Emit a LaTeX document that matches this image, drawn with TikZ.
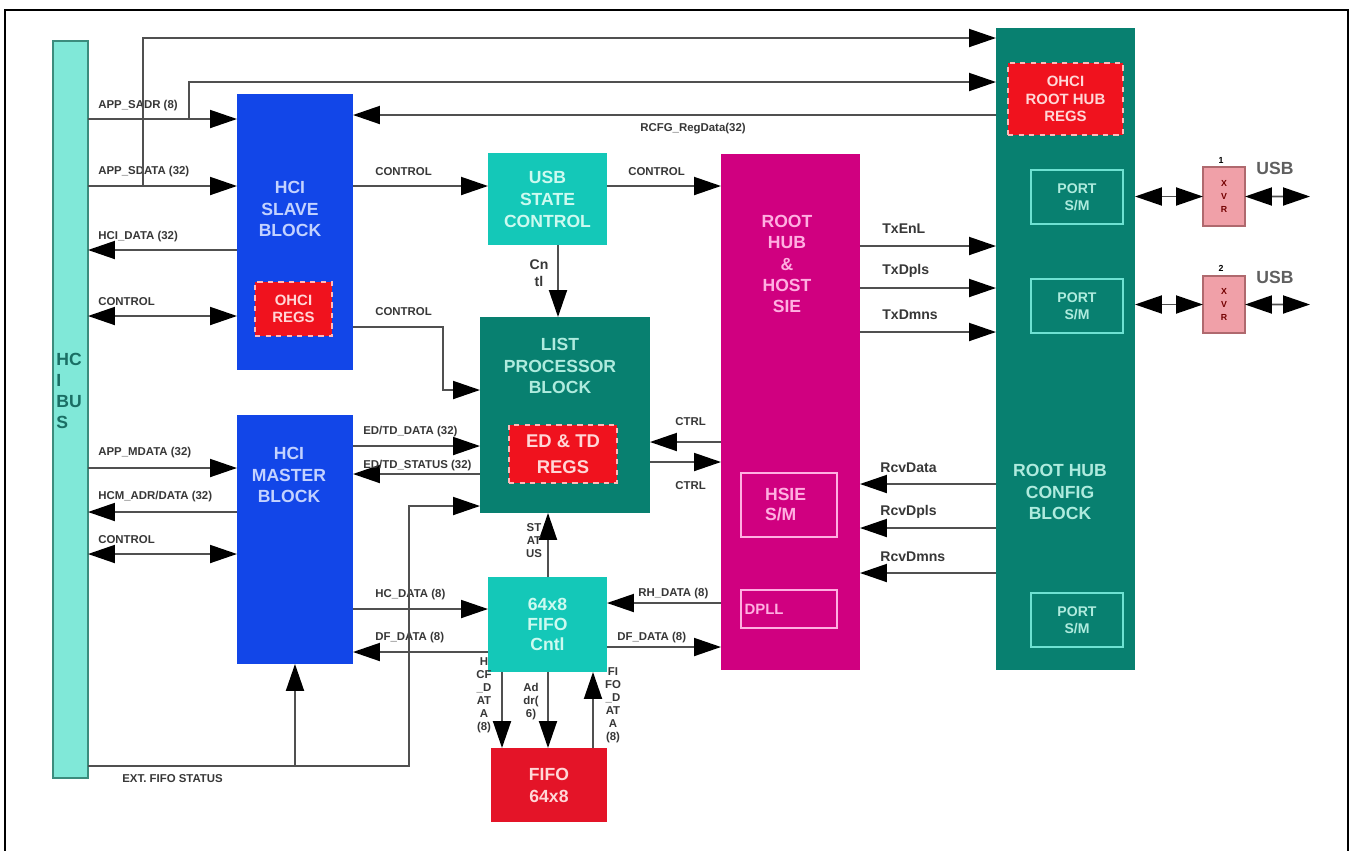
\documentclass[tikz,border=0pt]{standalone}
\usepackage{fontspec}
\setmainfont{Liberation Sans}
\usepackage{tikz}
\usetikzlibrary{arrows.meta,positioning,calc}
\definecolor{busaqua}{RGB}{128,232,216}
\definecolor{busedge}{RGB}{60,140,125}
\definecolor{bustext}{RGB}{26,110,100}
\definecolor{hciblue}{RGB}{18,70,232}
\definecolor{hcitext}{RGB}{195,210,255}
\definecolor{usbteal}{RGB}{20,200,184}
\definecolor{usbtext}{RGB}{205,250,240}
\definecolor{lpteal}{RGB}{8,128,112}
\definecolor{lptext}{RGB}{175,235,222}
\definecolor{regred}{RGB}{240,18,30}
\definecolor{regedge}{RGB}{255,185,185}
\definecolor{regtext}{RGB}{255,215,215}
\definecolor{fifored}{RGB}{228,20,40}
\definecolor{siemag}{RGB}{208,0,128}
\definecolor{sietext}{RGB}{255,175,225}
\definecolor{portedge}{RGB}{110,225,210}
\definecolor{xvrpink}{RGB}{240,160,168}
\definecolor{xvredge}{RGB}{175,105,110}
\definecolor{wire}{RGB}{80,80,80}
\definecolor{lblgray}{RGB}{55,55,55}
\definecolor{usbgray}{RGB}{95,95,95}
\tikzset{
  blk/.style={rectangle,inner sep=0pt,outer sep=0pt,anchor=north west},
  ttl/.style={font=\fontsize{10}{12}\selectfont\bfseries,align=center,inner sep=0pt},
  regbox/.style={blk,fill=regred,draw=regedge,dashed,line width=1pt,text=regtext,align=center},
  portbox/.style={blk,draw=portedge,line width=0.8pt,text=lptext,align=center,
    font=\fontsize{8}{9.5}\selectfont\bfseries},
  hsiebox/.style={blk,draw=sietext,line width=0.8pt,text=sietext,align=left},
  sig/.style={draw=wire,line width=1.1pt,-{Triangle[length=0.54cm,width=0.36cm,black]}},
  sigboth/.style={draw=wire,line width=1.1pt,
    {Triangle[length=0.54cm,width=0.36cm,black]}-{Triangle[length=0.54cm,width=0.36cm,black]}},
  lbl/.style={font=\fontsize{6.5}{7.4}\selectfont\bfseries,text=lblgray,anchor=west,inner sep=0pt},
  vlbl/.style={font=\fontsize{6.5}{7.4}\selectfont\bfseries,text=lblgray,align=center,inner sep=0pt},
  sielbl/.style={font=\fontsize{8}{9}\selectfont\bfseries,text=lblgray,anchor=west,inner sep=0pt}
}

\begin{document}
\begin{tikzpicture}[x=0.02cm,y=-0.02cm]
  \useasboundingbox (0,0) rectangle (1353,850);
  \draw[line width=1.5pt] (5,10) rectangle (1348,880);

  % blocks
  \node[blk,fill=busaqua,draw=busedge,line width=0.8pt,minimum width=0.70cm,minimum height=14.74cm]
    (bus) at (53,41) {};
  \node[ttl,text=bustext,anchor=west,align=left] (bust) at (56,391) {HC\\I\\BU\\S};

  \node[blk,fill=hciblue,minimum width=2.32cm,minimum height=5.52cm] (slave) at (237,94) {};
  \node[ttl,text=hcitext] (slavet) at (290,209) {HCI\\SLAVE\\BLOCK};
  \node[regbox,minimum width=1.54cm,minimum height=1.08cm,font=\fontsize{8.5}{9.5}\selectfont\bfseries]
    (sregs) at (255,282) {OHCI\\REGS};

  \node[blk,fill=hciblue,minimum width=2.32cm,minimum height=4.98cm] (master) at (237,415) {};
  \node[ttl,text=hcitext] (mastert) at (289,475) {HCI\\MASTER\\BLOCK};

  \node[blk,fill=usbteal,minimum width=2.38cm,minimum height=1.84cm,
    font=\fontsize{10}{12.5}\selectfont\bfseries,text=usbtext,align=center] (usc) at (488,153)
    {USB\\STATE\\CONTROL};

  \node[blk,fill=lpteal,minimum width=3.40cm,minimum height=3.92cm] (lpb) at (480,317) {};
  \node[ttl,text=lptext] (lpbt) at (560,366) {LIST\\PROCESSOR\\BLOCK};
  \node[regbox,minimum width=2.16cm,minimum height=1.16cm,font=\fontsize{10.5}{15}\selectfont\bfseries]
    (edtd) at (509,425) {ED \& TD\\REGS};

  \node[blk,fill=usbteal,minimum width=2.38cm,minimum height=1.90cm,
    font=\fontsize{10}{11.5}\selectfont\bfseries,text=usbtext,align=center] (fcntl) at (488,577)
    {64x8\\FIFO\\Cntl};
  \node[blk,fill=fifored,minimum width=2.32cm,minimum height=1.48cm,
    font=\fontsize{10}{12.5}\selectfont\bfseries,text=regtext,align=center] (fifo) at (491,748)
    {FIFO\\64x8};

  \node[blk,fill=siemag,minimum width=2.78cm,minimum height=10.32cm] (sie) at (721,154) {};
  \node[ttl,text=sietext] (siet) at (787,264) {ROOT\\HUB\\\&\\HOST\\SIE};
  \node[hsiebox,minimum width=1.92cm,minimum height=1.28cm,font=\fontsize{10}{11.4}\selectfont\bfseries]
    (hsie) at (741,473) {HSIE\\S/M\phantom{IE}};
  \node[hsiebox,minimum width=1.92cm,minimum height=0.76cm,font=\fontsize{8.5}{10}\selectfont\bfseries]
    (dpll) at (741,590) {DPLL\phantom{MMMM}};

  \node[blk,fill=lpteal,minimum width=2.78cm,minimum height=12.84cm] (rhc) at (996,28) {};
  \node[ttl,text=lptext] (rhct) at (1060,492) {ROOT HUB\\CONFIG\\BLOCK};
  \node[regbox,minimum width=2.30cm,minimum height=1.44cm,font=\fontsize{8.5}{10}\selectfont\bfseries]
    (rhregs) at (1008,63) {OHCI\\ROOT HUB\\REGS};
  \node[portbox,minimum width=1.84cm,minimum height=1.08cm] (port1) at (1031,170) {PORT\\S/M};
  \node[portbox,minimum width=1.84cm,minimum height=1.08cm] (port2) at (1031,279) {PORT\\S/M};
  \node[portbox,minimum width=1.84cm,minimum height=1.08cm] (port3) at (1031,593) {PORT\\S/M};

  \node[blk,fill=xvrpink,draw=xvredge,line width=0.6pt,minimum width=0.84cm,minimum height=1.18cm,
    font=\fontsize{5}{7.4}\selectfont\bfseries,text=red!45!black,align=center] (xvr1) at (1203,167) {X\\V\\R};
  \node[blk,fill=xvrpink,draw=xvredge,line width=0.6pt,minimum width=0.84cm,minimum height=1.14cm,
    font=\fontsize{5}{7.4}\selectfont\bfseries,text=red!45!black,align=center] (xvr2) at (1203,276) {X\\V\\R};
  \node[font=\fontsize{5}{6}\selectfont\bfseries,inner sep=0pt] (xvr1n) at (1221,160) {1};
  \node[font=\fontsize{5}{6}\selectfont\bfseries,inner sep=0pt] (xvr2n) at (1221,268) {2};
  \node[font=\fontsize{10}{12}\selectfont\bfseries,text=usbgray,anchor=west,inner sep=0pt] (usb1) at (1256,168) {USB};
  \node[font=\fontsize{10}{12}\selectfont\bfseries,text=usbgray,anchor=west,inner sep=0pt] (usb2) at (1256,277) {USB};

  % bus <-> slave
  \draw[sig] (bus.east |- 0,119) -- (slave.west |- 0,119);
  \draw[sig] (bus.east |- 0,186) -- (slave.west |- 0,186);
  \draw[sig] (slave.west |- 0,250) -- (bus.east |- 0,250);
  \draw[sigboth] (bus.east |- 0,316) -- (slave.west |- 0,316);
  \node[lbl] at (98,106) {APP\_SADR (8)};
  \node[lbl] at (98,172) {APP\_SDATA (32)};
  \node[lbl] at (98,237) {HCI\_DATA (32)};
  \node[lbl] at (98,302) {CONTROL};

  % feeds to root hub config
  \coordinate (tapa) at (143,186);
  \coordinate (tapb) at (189,119);
  \draw[sig] (tapa) |- (rhc.west |- 0,38);
  \draw[sig] (tapb) |- (rhc.west |- 0,82);
  \draw[sig] (rhc.west |- 0,115) -- (slave.east |- 0,115);
  \node[lbl] at (640,129) {RCFG\_RegData(32)};

  % slave -> usb state -> sie
  \draw[sig] (slave.east |- 0,186) -- (usc.west |- 0,186);
  \draw[sig] (usc.east |- 0,186) -- (sie.west |- 0,186);
  \node[lbl] at (375,172) {CONTROL};
  \node[lbl] at (628,172) {CONTROL};
  \draw[sig] (usc.south -| 558,0) -- (lpb.north -| 558,0);
  \node[vlbl,font=\fontsize{8}{9.5}\selectfont\bfseries] at (539,273) {Cn\\tl};
  \draw[sig] (slave.east |- 0,327) -| (443,390) -- (lpb.west |- 0,390);
  \node[lbl] at (375,312) {CONTROL};

  % bus <-> master
  \draw[sig] (bus.east |- 0,468) -- (master.west |- 0,468);
  \draw[sig] (master.west |- 0,512) -- (bus.east |- 0,512);
  \draw[sigboth] (bus.east |- 0,554) -- (master.west |- 0,554);
  \node[lbl] at (98,453) {APP\_MDATA (32)};
  \node[lbl] at (98,497) {HCM\_ADR/DATA (32)};
  \node[lbl] at (98,540) {CONTROL};

  % master <-> list processor, fifo cntl
  \draw[sig] (master.east |- 0,446) -- (lpb.west |- 0,446);
  \draw[sig] (lpb.west |- 0,474) -- (master.east |- 0,474);
  \node[lbl] at (363,432) {ED/TD\_DATA (32)};
  \node[lbl] at (363,466) {ED/TD\_STATUS (32)};
  \draw[sig] (master.east |- 0,609) -- (fcntl.west |- 0,609);
  \draw[sig] (fcntl.west |- 0,652) -- (master.east |- 0,652);
  \node[lbl] at (375,595) {HC\_DATA (8)};
  \node[lbl] at (375,638) {DF\_DATA (8)};

  % ext fifo status
  \draw[sig] (bus.east |- 0,766) -| (409,506) -- (lpb.west |- 0,506);
  \draw[sig] (master.south |- 0,766) -- (master.south);
  \node[lbl] at (122,779) {EXT. FIFO STATUS};

  % fifo cntl
  \draw[sig] (fcntl.north -| 548,0) -- (lpb.south -| 548,0);
  \node[vlbl] at (534,541) {ST\\AT\\US};
  \draw[sig] (sie.west |- 0,603) -- (fcntl.east |- 0,603);
  \draw[sig] (fcntl.east |- 0,647) -- (sie.west |- 0,647);
  \node[lbl] at (638,594) {RH\_DATA (8)};
  \node[lbl] at (617,638) {DF\_DATA (8)};
  \draw[sig] (fcntl.south -| 502,0) -- (fifo.north -| 502,0);
  \draw[sig] (fcntl.south -| 548,0) -- (fifo.north -| 548,0);
  \draw[sig] (fifo.north -| 593,0) -- (fcntl.south -| 593,0);
  \node[vlbl] at (484,695) {H\\CF\\\_D\\AT\\A\\(8)};
  \node[vlbl] at (531,702) {Ad\\dr(\\6)};
  \node[vlbl] at (613,705) {FI\\FO\\\_D\\AT\\A\\(8)};

  % list processor <-> sie
  \draw[sig] (sie.west |- 0,442) -- (lpb.east |- 0,442);
  \draw[sig] (lpb.east |- 0,462) -- (sie.west |- 0,462);
  \node[lbl] at (675,422) {CTRL};
  \node[lbl] at (675,486) {CTRL};

  % sie <-> root hub config
  \foreach \yy/\txt in {246/TxEnL,288/TxDpls,332/TxDmns}{
    \draw[sig] (sie.east |- 0,\yy) -- (rhc.west |- 0,\yy);
    \node[sielbl] at (882,\yy-17) {\txt};
  }
  \foreach \yy/\txt in {484/RcvData,528/RcvDpls,573/RcvDmns}{
    \draw[sig] (rhc.west |- 0,\yy) -- (sie.east |- 0,\yy);
    \node[sielbl] at (880,\yy-16) {\txt};
  }

  % ports to transceivers
  \coordinate (usbA) at (1310,196.5);
  \coordinate (usbB) at (1310,304.5);
  \draw[sigboth] (rhc.east |- xvr1.west) -- (xvr1.west);
  \draw[sigboth] (rhc.east |- xvr2.west) -- (xvr2.west);
  \draw[sigboth] (xvr1.east) -- (usbA);
  \draw[sigboth] (xvr2.east) -- (usbB);
\end{tikzpicture}
\end{document}
